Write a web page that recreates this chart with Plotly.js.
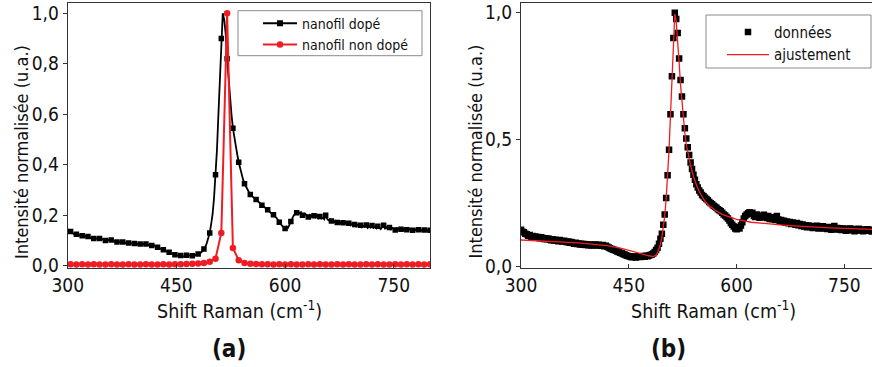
<!DOCTYPE html>
<html><head><meta charset="utf-8">
<script src="https://cdn.plot.ly/plotly-3.0.1.min.js"></script>
<style>html,body{margin:0;padding:0;background:#fff}#chart{width:872px;height:367px}</style>
</head><body><div id="chart"></div>
<script>
// Raman shift (cm-1), doped nanowire spectrum (shared by panels a and b)
const shiftX = [300,302,304,306,308,310,312,314,316,318,320,322,324,326,328,330,332,334,336,338,340,
342,344,346,348,350,352,354,356,358,360,362,364,366,368,370,372,374,376,378,380,382,384,386,388,390,392,394,396,398,400,
402,404,406,408,410,412,414,416,418,420,422,424,426,428,430,432,434,436,438,440,
442,444,446,448,450,452,454,456,458,460,462,464,466,468,470,472,474,476,478,480,482,484,486,488,
490,492,494,496,498,500,502,504,506,508,510,512,514,516,518,520,522,524,526,528,530,532,534,536,538,540,
542,544,546,548,550,552,554,556,558,560,562,564,566,568,570,572,574,576,578,580,582,584,586,588,590,592,594,596,598,600,
602,604,606,608,610,612,614,616,618,620,622,624,626,628,630,632,634,636,638,640,642,644,646,648,650,652,654,656,658,660,
662,664,666,668,670,672,674,676,678,680,682,684,686,688,690,692,694,696,698,700,702,704,706,708,710,712,714,716,718,720,
722,724,726,728,730,732,734,736,738,740,742,744,746,748,750,752,754,756,758,760,762,764,766,768,770,772,774,776,778,780,782,784,786,788,790,792,794,796,798,800];
const dopedY = [0.145,0.138,0.136,0.130,0.128,0.122,0.125,0.118,0.121,0.116,0.119,0.114,0.117,0.112,0.116,0.113,0.109,0.112,0.108,0.111,0.107,
0.104,0.108,0.103,0.106,0.104,0.100,0.105,0.101,0.099,0.102,0.098,0.096,0.099,0.094,0.097,0.093,0.090,0.094,0.089,0.091,0.087,0.090,0.086,0.089,0.085,0.088,0.084,0.087,0.083,0.086,
0.084,0.087,0.083,0.086,0.084,0.082,0.085,0.080,0.082,0.078,0.076,0.073,0.070,0.068,0.066,0.063,0.060,0.058,0.055,0.053,
0.050,0.048,0.045,0.043,0.041,0.040,0.037,0.040,0.038,0.036,0.039,0.041,0.038,0.040,0.042,0.039,0.043,0.041,0.044,0.046,0.048,0.052,0.058,0.066,
0.075,0.090,0.110,0.130,0.165,0.205,0.270,0.360,0.460,0.600,0.750,0.900,1.000,0.975,0.920,0.820,0.735,0.670,0.600,0.545,0.505,0.470,0.440,0.410,0.385,0.362,
0.342,0.325,0.312,0.300,0.292,0.282,0.277,0.271,0.266,0.262,0.255,0.250,0.246,0.240,0.236,0.232,0.226,0.222,0.218,0.212,0.205,0.202,0.196,0.190,0.182,0.172,0.165,0.158,0.150,0.147,
0.155,0.150,0.162,0.175,0.190,0.200,0.205,0.210,0.214,0.208,0.212,0.200,0.196,0.205,0.198,0.193,0.201,0.195,0.204,0.198,0.192,0.200,0.188,0.195,0.187,0.190,0.184,0.200,0.186,0.180,
0.184,0.177,0.181,0.173,0.178,0.171,0.176,0.168,0.174,0.170,0.165,0.172,0.163,0.168,0.160,0.166,0.158,0.163,0.155,0.162,0.156,0.160,0.152,0.158,0.154,0.161,0.150,0.157,0.152,0.159,
0.150,0.155,0.148,0.156,0.150,0.145,0.153,0.160,0.147,0.152,0.146,0.151,0.144,0.150,0.146,0.141,0.149,0.143,0.150,0.144,0.148,0.140,0.147,0.142,0.149,0.143,0.146,0.140,0.145,0.141,0.147,0.142,0.144,0.139,0.145,0.141,0.143,0.138,0.142,0.140];

// Undoped nanowire
const undopedX = [296,304,312,320,328,336,344,352,360,368,376,384,392,400,
408,416,424,432,440,448,456,464,472,480,488,496,504,
512,520,528,536,544,552,560,568,576,584,592,600,
608,616,624,632,640,648,656,664,672,680,688,696,704,
712,720,728,736,744,752,760,768,776,784,792,800];
const undopedY = [0.006,0.006,0.005,0.006,0.005,0.006,0.005,0.005,0.006,0.005,0.005,0.006,0.005,0.005,
0.006,0.005,0.005,0.006,0.005,0.006,0.006,0.007,0.008,0.009,0.011,0.016,0.028,
0.130,1.000,0.070,0.022,0.011,0.008,0.007,0.006,0.006,0.005,0.006,0.005,
0.006,0.005,0.005,0.006,0.005,0.006,0.005,0.005,0.006,0.005,0.006,0.005,0.005,
0.006,0.005,0.006,0.005,0.005,0.006,0.005,0.006,0.005,0.006,0.005,0.006];

// Fit (ajustement)
const fitX = [300,320,340,360,380,400,420,440,450,460,470,478,484,488,490,492,494,496,498,500,502,504,506,508,510,512,
514,516,518,520,522,524,526,528,530,533,536,540,545,550,555,560,570,580,590,600,620,640,660,680,700,730,760,790];
const fitY = [0.105,0.103,0.100,0.097,0.094,0.089,0.083,0.072,0.064,0.056,0.049,0.043,0.040,0.046,0.055,0.068,0.088,0.115,0.150,0.200,0.268,0.355,0.460,0.595,0.745,0.895,
0.995,0.965,0.895,0.805,0.715,0.640,0.575,0.525,0.482,0.435,0.398,0.355,0.315,0.285,0.262,0.245,0.222,0.206,0.195,0.186,0.175,0.169,0.165,0.161,0.157,0.153,0.150,0.147];

const xTickVals = [300,450,600,750];
const xTickText = ['300','450','600','750'];
const yTickValsA = [0,0.2,0.4,0.6,0.8,1.0];
const yTickTextA = ['0,0','0,2','0,4','0,6','0,8','1,0'];
const yTickValsB = [0,0.5,1.0];
const yTickTextB = ['0,0','0,5','1,0'];
const yTitleText = 'Intensité normalisée (u.a.)';
const xTitleText = 'Shift Raman (cm<sup>-1</sup>)';

const F = "'Liberation Sans Narrow','Arial Narrow','DejaVu Sans Condensed','Open Sans',sans-serif";
const BLACK = '#000000', RED = '#ee1c24', AX = '#333333', TXT = '#111111';
const W = 872, H = 367;
const px = v => v / W, py = v => 1 - v / H;

// every fourth sampled point carries a symbol on the doped curve of panel (a)
const markIdx = shiftX.map((v,i)=>i).filter(i => (shiftX[i]-300) % 8 === 4);
const mX = markIdx.map(i => shiftX[i]);
const mY = markIdx.map(i => dopedY[i]);

const traces = [
  {x: shiftX, y: dopedY, xaxis:'x', yaxis:'y', mode:'lines', line:{color:BLACK, width:1.8}, showlegend:false, hoverinfo:'skip'},
  {x: mX, y: mY, xaxis:'x', yaxis:'y', mode:'markers', marker:{symbol:'square', size:5.5, color:BLACK}, showlegend:false},
  {x:[null], y:[null], xaxis:'x', yaxis:'y', mode:'lines+markers', name:'nanofil dopé', legend:'legend',
   line:{color:BLACK, width:2}, marker:{symbol:'square', size:6, color:BLACK}},
  {x: undopedX, y: undopedY, xaxis:'x', yaxis:'y', mode:'lines+markers', name:'nanofil non dopé', legend:'legend',
   line:{color:RED, width:2}, marker:{symbol:'circle', size:6.5, color:RED}},
  {x: shiftX, y: dopedY, xaxis:'x2', yaxis:'y2', mode:'markers', name:'données', legend:'legend2',
   marker:{symbol:'square', size:6.5, color:BLACK}},
  {x: fitX, y: fitY, xaxis:'x2', yaxis:'y2', mode:'lines', name:'ajustement', legend:'legend2',
   line:{color:RED, width:1.3}}
];

const axCommon = {showline:true, linecolor:AX, linewidth:1, showgrid:false, zeroline:false,
  ticklen:4, tickcolor:AX, tickwidth:1, tickfont:{size:19, family:F, color:TXT}};

const ann = (text, x, y, size, angle) => ({text, xref:'paper', yref:'paper', x:px(x), y:py(y), showarrow:false,
  xanchor:'center', yanchor:'middle', textangle:angle||0, font:{size, family:F, color:TXT}});

const layout = {
  width:W, height:H, margin:{l:0,r:0,t:0,b:0}, paper_bgcolor:'#fff', plot_bgcolor:'#fff',
  font:{family:F, size:18, color:TXT},
  showlegend:true,
  xaxis: Object.assign({}, axCommon, {domain:[px(67.7), px(430)], range:[300,800], anchor:'y', mirror:true,
    ticks:'inside', tickvals:xTickVals, ticktext:xTickText}),
  yaxis: Object.assign({}, axCommon, {domain:[py(268), py(3)], range:[-0.0091,1.0408], anchor:'x', mirror:true,
    ticks:'outside', tickvals:yTickValsA, ticktext:yTickTextA}),
  xaxis2: Object.assign({}, axCommon, {domain:[px(521), 1], range:[300,788.4], anchor:'y2', mirror:true,
    ticks:'inside', tickvals:xTickVals, ticktext:xTickText}),
  yaxis2: Object.assign({}, axCommon, {domain:[py(267.7), py(3.3)], range:[-0.004,1.037], anchor:'x2', mirror:false,
    ticks:'outside', tickvals:yTickValsB, ticktext:yTickTextB}),
  legend: {x:px(258), xanchor:'left', y:py(7.7), yanchor:'top', bgcolor:'rgba(0,0,0,0)', borderwidth:0,
    font:{size:14, family:F, color:TXT}, itemwidth:34, tracegroupgap:0},
  legend2: {x:px(722), xanchor:'left', y:py(15.8), yanchor:'top', bgcolor:'rgba(0,0,0,0)', borderwidth:0,
    font:{size:15, family:F, color:TXT}, itemwidth:42, tracegroupgap:0},
  shapes: [
    {type:'rect', xref:'paper', yref:'paper', x0:px(238), x1:px(422), y0:py(55.7), y1:py(10.7),
     line:{color:'#8a8a8a', width:1}, fillcolor:'#ffffff', layer:'above'},
    {type:'rect', xref:'paper', yref:'paper', x0:px(706), x1:px(871), y0:py(68), y1:py(15),
     line:{color:'#8a8a8a', width:1}, fillcolor:'#ffffff', layer:'above'}
  ],
  annotations: [
    ann(yTitleText, 21, 152, 18, -90),
    ann(yTitleText, 474.5, 152, 18, -90),
    ann(xTitleText, 239, 310, 19.5),
    ann(xTitleText, 713, 310, 19.5),
    ann('<b>(a)</b>', 229, 349, 24),
    ann('<b>(b)</b>', 668, 349, 24)
  ]
};

Plotly.newPlot('chart', traces, layout, {displayModeBar:false, staticPlot:true});
</script>
</body></html>
